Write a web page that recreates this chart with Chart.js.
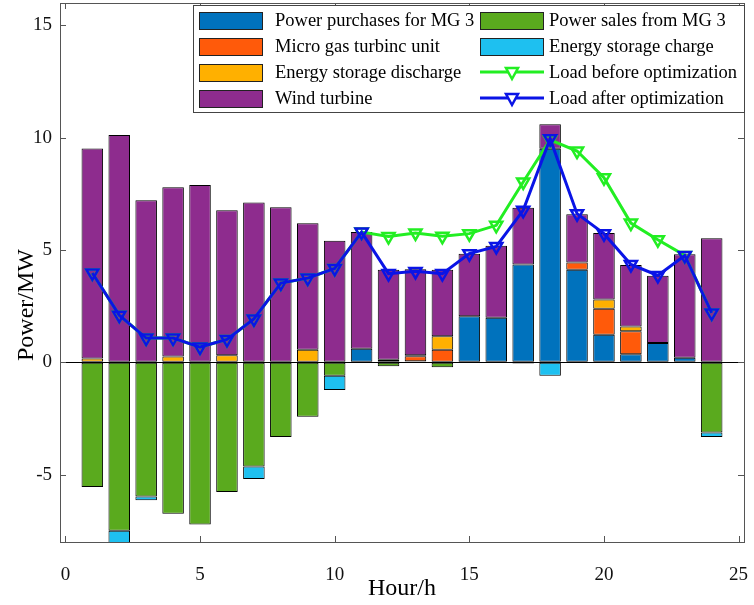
<!DOCTYPE html>
<html>
<head>
<meta charset="utf-8">
<script src="https://cdn.jsdelivr.net/npm/chart.js@4.4.0/dist/chart.umd.min.js"></script>
<style>
  html, body { margin: 0; padding: 0; background: #fff; }
  #wrap { width: 754px; height: 605px; }
</style>
</head>
<body>
<div id="wrap"><canvas id="chartMG3"></canvas></div>
<script>
const hours = [1, 2, 3, 4, 5, 6, 7, 8, 9, 10, 11, 12, 13, 14, 15, 16, 17, 18, 19, 20, 21, 22, 23, 24];
const purchase = [0, 0, 0, 0, 0, 0, 0, 0, 0, 0, 0.6, 0, 0.05, 0, 2.05, 1.99, 4.36, 9.51, 4.12, 1.23, 0.36, 0.86, 0.2, 0];
const gasTurbine = [0, 0, 0, 0, 0, 0, 0, 0, 0, 0, 0, 0.12, 0.22, 0.56, 0, 0, 0, 0, 0.33, 1.16, 1.02, 0, 0, 0];
const discharge = [0.17, 0, 0, 0.26, 0, 0.31, 0, 0, 0.56, 0, 0, 0, 0.05, 0.6, 0, 0, 0, 0, 0, 0.41, 0.22, 0, 0, 0];
const wind = [9.35, 10.12, 7.22, 7.54, 7.9, 6.46, 7.12, 6.91, 5.63, 5.41, 5.2, 4.0, 3.83, 2.96, 2.79, 3.2, 2.52, 1.09, 2.14, 2.96, 2.73, 3.0, 4.61, 5.52];
const sales = [-5.55, -7.5, -5.97, -6.74, -7.22, -5.77, -4.64, -3.33, -2.42, -0.6, 0, -0.17, 0, -0.22, 0, 0, -0.05, 0, 0, 0, 0, 0, 0, -3.12];
const charge = [0, -0.6, -0.17, 0, 0, 0, -0.56, 0, 0, -0.63, 0, 0, 0, 0, 0, 0, 0, -0.6, 0, 0, 0, 0, 0, -0.2];
const loadBefore = [3.98, 2.1, 1.08, 1.08, 0.68, 1.02, 1.93, 3.53, 3.75, 4.18, 5.8, 5.6, 5.76, 5.61, 5.73, 6.1, 8.03, 9.91, 9.41, 8.22, 6.2, 5.46, 4.76, 2.2];
const loadAfter = [3.98, 2.1, 1.08, 1.08, 0.68, 1.02, 1.93, 3.53, 3.75, 4.18, 5.8, 3.95, 4.05, 3.95, 4.84, 5.16, 6.77, 9.96, 6.62, 5.73, 4.36, 3.87, 4.76, 2.2];
const xTicks = [0, 5, 10, 15, 20, 25];
const yTicks = [-5, 0, 5, 10, 15];

const serif = "'Liberation Serif', 'DejaVu Serif', serif";
const xy = (vals) => vals.map((v, i) => ({ x: hours[i], y: v }));

function barSet(label, vals, color) {
  return {
    type: "bar",
    label: label,
    data: xy(vals),
    backgroundColor: color,
    borderColor: "#000",
    borderWidth: 1,
    borderSkipped: false,
    barPercentage: 0.8,
    categoryPercentage: 1,
    order: 2,
  };
}

function lineSet(label, vals, color, order) {
  return {
    type: "line",
    label: label,
    data: xy(vals),
    borderColor: color,
    borderWidth: 3,
    pointStyle: "triangle",
    rotation: 180,
    pointRadius: 7,
    pointBorderWidth: 2.5,
    pointBorderColor: color,
    pointBackgroundColor: "rgba(0,0,0,0)",
    stack: label,
    order: order,
  };
}

const dsPurchase = barSet("Power purchases for MG 3", purchase, "#0072BD");
const dsGas = barSet("Micro gas turbinc unit", gasTurbine, "#FF5A0A");
const dsDischarge = barSet("Energy storage discharge", discharge, "#FFB000");
const dsWind = barSet("Wind turbine", wind, "#8E2C8E");
const dsSales = barSet("Power sales from MG 3", sales, "#5AAA1E");
const dsCharge = barSet("Energy storage charge", charge, "#1EC0F0");
const dsBefore = lineSet("Load before optimization", loadBefore, "#22EE22", 1);
const dsAfter = lineSet("Load after optimization", loadAfter, "#0A14E6", 0);

// matlab style box with inward ticks, plus the y title placed like the original
const frame = {
  id: "frame",
  afterDraw(chart) {
    const { ctx, chartArea: a, scales } = chart;
    ctx.save();
    ctx.strokeStyle = "#555";
    ctx.lineWidth = 1;
    ctx.strokeRect(a.left + 0.5, a.top + 0.5, a.right - a.left, a.bottom - a.top);
    ctx.beginPath();
    xTicks.forEach((v) => {
      const px = Math.round(scales.x.getPixelForValue(v)) + 0.5;
      ctx.moveTo(px, a.bottom); ctx.lineTo(px, a.bottom - 6);
      ctx.moveTo(px, a.top); ctx.lineTo(px, a.top + 6);
    });
    yTicks.forEach((v) => {
      const py = Math.round(scales.y.getPixelForValue(v)) + 0.5;
      ctx.moveTo(a.left, py); ctx.lineTo(a.left + 6, py);
      ctx.moveTo(a.right, py); ctx.lineTo(a.right - 6, py);
    });
    ctx.stroke();
    ctx.translate(27, 305);
    ctx.rotate(-Math.PI / 2);
    ctx.fillStyle = "#000";
    ctx.font = "24px " + serif;
    ctx.textAlign = "center";
    ctx.textBaseline = "middle";
    ctx.fillText("Power/MW", 0, 0);
    ctx.restore();
  },
};

// two column legend inside the axes, like the matlab one
const boxLegend = {
  id: "boxLegend",
  afterDraw(chart) {
    const { ctx, chartArea: a } = chart;
    const cols = [
      [dsPurchase, dsGas, dsDischarge, dsWind],
      [dsSales, dsCharge, dsBefore, dsAfter],
    ];
    const left = 193, top = a.top + 2, right = a.right, bottom = 112;
    const colX = [199, 480];
    const rowY = [20, 46, 72, 98];
    ctx.save();
    ctx.fillStyle = "#fff";
    ctx.fillRect(left, top, right - left, bottom - top);
    ctx.strokeStyle = "#444";
    ctx.lineWidth = 1;
    ctx.strokeRect(left + 0.5, top + 0.5, right - left, bottom - top);
    ctx.font = "18.5px " + serif;
    ctx.textBaseline = "middle";
    cols.forEach((col, c) => {
      col.forEach((ds, r) => {
        const x = colX[c], y = rowY[r];
        if (ds.type === "bar") {
          ctx.fillStyle = ds.backgroundColor;
          ctx.fillRect(x, y - 8, 63, 17);
          ctx.strokeStyle = "#222";
          ctx.strokeRect(x + 0.5, y - 7.5, 63, 17);
        } else {
          ctx.strokeStyle = ds.borderColor;
          ctx.lineWidth = 3;
          ctx.beginPath();
          ctx.moveTo(x, y); ctx.lineTo(x + 64, y);
          ctx.stroke();
          ctx.lineWidth = 2.5;
          ctx.beginPath();
          ctx.moveTo(x + 26, y - 4); ctx.lineTo(x + 38, y - 4); ctx.lineTo(x + 32, y + 7);
          ctx.closePath();
          ctx.fillStyle = "#fff";
          ctx.fill();
          ctx.stroke();
          ctx.lineWidth = 1;
        }
        ctx.fillStyle = "#000";
        ctx.fillText(ds.label, c === 0 ? 275 : 549, y + 1);
      });
    });
    ctx.restore();
  },
};

document.addEventListener("DOMContentLoaded", () => {
  new Chart(document.querySelector("#chartMG3"), {
    data: {
      datasets: [dsPurchase, dsGas, dsDischarge, dsWind, dsSales, dsCharge, dsBefore, dsAfter],
    },
    options: {
      responsive: true,
      maintainAspectRatio: false,
      animation: false,
      layout: { autoPadding: false, padding: { left: 0, top: 3, right: 10, bottom: 0 } },
      scales: {
        x: {
          type: "linear",
          min: -0.2,
          max: 25.2,
          offset: false,
          stacked: true,
          grid: { display: false },
          border: { display: false },
          afterBuildTicks: (s) => { s.ticks = xTicks.map((v) => ({ value: v })); },
          afterFit: (s) => { s.height = 63; s.paddingLeft = 0; s.paddingRight = 0; },
          ticks: { color: "#111", padding: 14, font: { family: serif, size: 19 } },
          title: {
            display: true,
            text: "Hour/h",
            color: "#000",
            padding: { top: 0, bottom: 2 },
            font: { family: serif, size: 24 },
          },
        },
        y: {
          min: -8,
          max: 16,
          stacked: true,
          border: { display: false },
          grid: {
            drawTicks: false,
            color: (c) => (c.tick && c.tick.value === 0 ? "#000" : "rgba(0,0,0,0)"),
          },
          afterBuildTicks: (s) => { s.ticks = yTicks.map((v) => ({ value: v })); },
          afterFit: (s) => { s.width = 60; s.paddingTop = 0; s.paddingBottom = 0; },
          ticks: { color: "#111", padding: 8, font: { family: serif, size: 19 } },
        },
      },
      plugins: {
        legend: { display: false },
        tooltip: { enabled: false },
      },
    },
    plugins: [frame, boxLegend],
  });
});
</script>
</body>
</html>
